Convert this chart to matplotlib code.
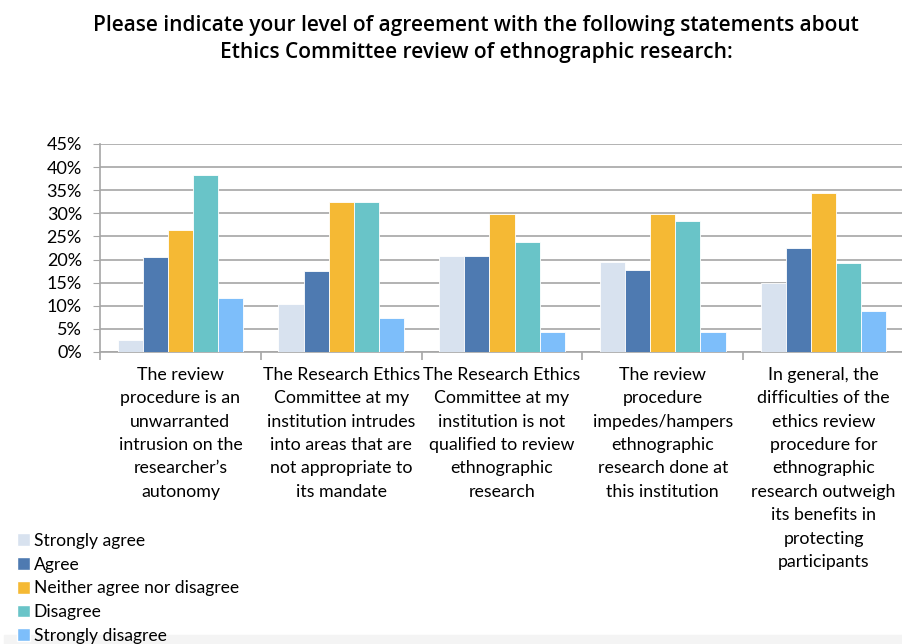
import numpy as np
import matplotlib
matplotlib.use("Agg")
import matplotlib.pyplot as plt
from matplotlib.patches import Patch, Rectangle

# ── Données ──────────────────────────────────────────────────
categories = [
    "The review\nprocedure is an\nunwarranted\nintrusion on the\nresearcher\u2019s\nautonomy",
    "The Research Ethics\nCommittee at my\ninstitution intrudes\ninto areas that are\nnot appropriate to\nits mandate",
    "The Research Ethics\nCommittee at my\ninstitution is not\nqualified to review\nethnographic\nresearch",
    "The review\nprocedure\nimpedes/hampers\nethnographic\nresearch done at\nthis institution",
    "In general, the\ndifficulties of the\nethics review\nprocedure for\nethnographic\nresearch outweigh\nits benefits in\nprotecting\nparticipants",
]
series_names = ["Strongly agree", "Agree", "Neither agree nor disagree",
                "Disagree", "Strongly disagree"]
strongly_agree    = [2.7, 10.3, 20.8, 19.4, 14.9]
agree             = [20.5, 17.5, 20.8, 17.7, 22.4]
neither           = [26.5, 32.4, 29.9, 29.9, 34.4]
disagree          = [38.3, 32.4, 23.9, 28.3, 19.3]
strongly_disagree = [11.6, 7.3, 4.3, 4.3, 8.9]
yticks = [0, 5, 10, 15, 20, 25, 30, 35, 40, 45]

colors = ["#D8E2EF", "#4E7AB1", "#F5B934", "#69C4C8", "#7DBEFA"]
values = [strongly_agree, agree, neither, disagree, strongly_disagree]

W, H = 902, 644
fig = plt.figure(figsize=(W / 100, H / 100), dpi=100)
body_font = ["Lato", "DejaVu Sans"]

ax = fig.add_axes([100 / W, (H - 352) / H, 804 / W, 208 / H])

n = len(categories)
bw = 0.156
x = np.arange(n)
for i, (vals, col) in enumerate(zip(values, colors)):
    ax.bar(x + (i - 2) * bw, vals, width=bw, color=col,
           edgecolor="white", linewidth=0.6, zorder=3)

ax.set_xlim(-0.5, n - 0.5)
ax.set_ylim(0, 45)
ax.set_yticks(yticks)
ax.set_yticklabels([f"{v}%" for v in yticks], fontsize=13,
                   family=body_font)
ax.yaxis.grid(True, color="#A6A6A6", lw=1.2, zorder=0)
ax.tick_params(axis="y", length=5, color="#A6A6A6", pad=8)
for s in ["top", "right"]:
    ax.spines[s].set_visible(False)
ax.spines["left"].set_color("#A6A6A6")
ax.spines["bottom"].set_color("#A6A6A6")
ax.spines["left"].set_linewidth(1.2)
ax.spines["bottom"].set_linewidth(1.2)

ax.set_xticks([])
ax.set_xticks(np.arange(-0.5, n), minor=True)
ax.tick_params(axis="x", which="minor", length=6, color="#A6A6A6", width=1.2)

for xi, lab in zip(x, categories):
    ax.text(xi, -3.2, lab, ha="center", va="top", fontsize=12.8,
            family=body_font, linespacing=1.57, transform=ax.transData)

# ── Légende ──────────────────────────────────────────────────
handles = [Patch(facecolor=c, edgecolor="white") for c in colors]
fig.legend(handles, series_names, loc="upper left",
           bbox_to_anchor=(10 / W, (H - 526) / H), frameon=False,
           prop={"family": body_font, "size": 12.6},
           handlelength=0.75, handleheight=0.75, handletextpad=0.2,
           labelspacing=0.44, borderaxespad=0)

# bande grise en bas
fig.patches.append(Rectangle((4 / W, 0), 1, 9 / H, transform=fig.transFigure,
                             color="#F4F4F4", zorder=-1))

fig.text(476 / W, 1 - 39 / H,
         "Please indicate your level of agreement with the following statements about\n"
         "Ethics Committee review of ethnographic research:",
         ha="center", va="center", fontsize=15, family=["Open Sans", "DejaVu Sans"],
         fontweight="semibold", linespacing=1.4)

fig.savefig("out.png", dpi=100)
